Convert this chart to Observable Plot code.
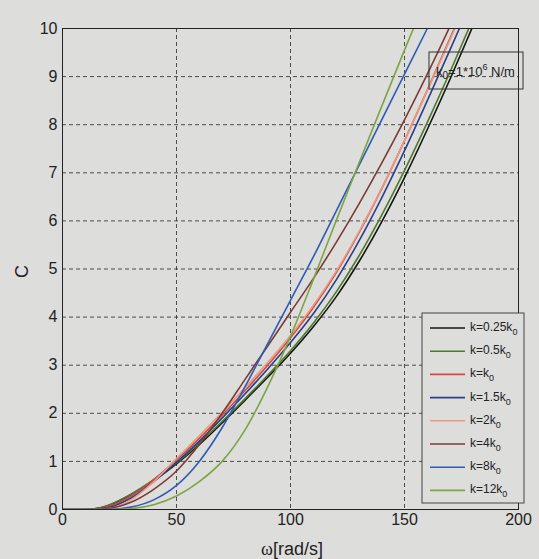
<!DOCTYPE html>
<html>
<head>
<meta charset="utf-8">
<script src="https://cdn.jsdelivr.net/npm/d3@7"></script>
<script src="https://cdn.jsdelivr.net/npm/@observablehq/plot@0.6"></script>
<style>
  html, body { margin: 0; padding: 0; background: #dddddb; }
  #chart svg { display: block; }
</style>
</head>
<body>
<div id="chart"></div>
<script>
// ω [rad/s] sample points
const omega = [0, 10, 20, 30, 40, 50, 60, 70, 80, 90, 100, 110, 120, 130, 140, 150, 160, 170, 180];

// C values per stiffness case
const c_k025 = [0, 0, 0.08, 0.3, 0.6, 0.95, 1.35, 1.8, 2.27, 2.75, 3.25, 3.8, 4.42, 5.15, 5.98, 6.9, 7.9, 8.95, 10.05];
const c_k05  = [0, 0, 0.09, 0.32, 0.62, 0.97, 1.38, 1.83, 2.3, 2.79, 3.3, 3.87, 4.52, 5.27, 6.12, 7.05, 8.05, 9.1, 10.2];
const c_k1   = [0, 0, 0.06, 0.28, 0.62, 1.03, 1.48, 1.96, 2.47, 3.0, 3.57, 4.2, 4.92, 5.75, 6.67, 7.67, 8.72, 9.8, 10.9];
const c_k15  = [0, 0, 0.04, 0.24, 0.58, 0.98, 1.42, 1.9, 2.4, 2.92, 3.47, 4.07, 4.77, 5.58, 6.48, 7.46, 8.5, 9.56, 10.64];
const c_k2   = [0, 0, 0.02, 0.2, 0.58, 1.06, 1.53, 2.02, 2.53, 3.06, 3.62, 4.24, 4.95, 5.77, 6.68, 7.67, 8.71, 9.77, 10.85];
const c_k4   = [0, 0, 0.02, 0.15, 0.42, 0.8, 1.35, 2.0, 2.7, 3.4, 4.1, 4.8, 5.55, 6.35, 7.2, 8.1, 9.05, 10.05, 11.1];
const c_k8   = [0, 0, 0, 0.05, 0.2, 0.5, 1.0, 1.7, 2.55, 3.45, 4.35, 5.25, 6.2, 7.15, 8.1, 9.05, 10.0, 10.95];
const c_k12  = [0, 0, 0, 0.02, 0.1, 0.28, 0.58, 1.0, 1.65, 2.55, 3.6, 4.78, 6.0, 7.2, 8.38, 9.55, 10.7];

const seriesValues = [c_k025, c_k05, c_k1, c_k15, c_k2, c_k4, c_k8, c_k12];
const seriesLabels = ["0.25", "0.5", "", "1.5", "2", "4", "8", "12"];
const seriesColors = ["#151515", "#4f7a2e", "#d04a42", "#28408a", "#eb9a80", "#7d3b36", "#2f5cb5", "#7ea444"];

const xTicks = [0, 50, 100, 150, 200];
const yTicks = [0, 1, 2, 3, 4, 5, 6, 7, 8, 9, 10];

const rows = [];
seriesValues.forEach((vals, i) => {
  vals.forEach((c, j) => rows.push({ w: omega[j], c, s: i }));
});

const W = 539, H = 559;
const mL = 62, mR = 21, mT = 28, mB = 50;

const chart = Plot.plot({
  width: W,
  height: H,
  marginLeft: mL,
  marginRight: mR,
  marginTop: mT,
  marginBottom: mB,
  style: { background: "#dddddb", fontFamily: "Liberation Sans, Arial, sans-serif", fontSize: "16px", color: "#222" },
  x: { domain: [0, 200], ticks: xTicks, tickSize: 0, tickPadding: 4, label: null },
  y: { domain: [0, 10], ticks: yTicks, tickSize: 0, tickPadding: 5, label: null },
  marks: [
    Plot.gridX(xTicks.slice(1, -1), { stroke: "#333", strokeOpacity: 0.85, strokeDasharray: "4,3" }),
    Plot.gridY(yTicks.slice(1, -1), { stroke: "#333", strokeOpacity: 0.85, strokeDasharray: "4,3" }),
    Plot.line(rows, {
      x: "w", y: "c", z: "s",
      stroke: d => seriesColors[d.s],
      strokeWidth: 1.6,
      curve: "monotone-x",
      clip: true
    }),
    Plot.frame({ stroke: "#222", strokeWidth: 1 }),
    Plot.axisX({ ticks: xTicks, tickSize: 0, tickPadding: 4, fontSize: 16 }),
    Plot.axisY({ ticks: yTicks, tickSize: 0, tickPadding: 5, fontSize: 16 })
  ]
});

document.getElementById("chart").appendChild(chart);

const svg = d3.select(chart);

// axis labels
svg.append("text")
  .attr("x", (mL + W - mR) / 2 + 2)
  .attr("y", H - 4)
  .attr("text-anchor", "middle")
  .attr("font-size", 18)
  .attr("fill", "#222")
  .call(t => {
    t.append("tspan").attr("font-family", "Liberation Serif, DejaVu Serif, serif").text("ω");
    t.append("tspan").attr("font-family", "Liberation Sans, Arial, sans-serif").text("[rad/s]");
  });

svg.append("text")
  .attr("transform", `translate(28, ${(mT + H - mB) / 2 + 3}) rotate(-90)`)
  .attr("text-anchor", "middle")
  .attr("font-size", 18)
  .attr("font-family", "Liberation Sans, Arial, sans-serif")
  .attr("fill", "#222")
  .text("C");

// annotation box k0 = 1*10^6 N/m
const ann = svg.append("g");
ann.append("rect")
  .attr("x", 429).attr("y", 52).attr("width", 94).attr("height", 37)
  .attr("fill", "none").attr("stroke", "#333").attr("stroke-width", 1);
const at = ann.append("text")
  .attr("x", 436).attr("y", 76)
  .attr("text-anchor", "start")
  .attr("font-size", 13)
  .attr("font-family", "Liberation Sans, Arial, sans-serif")
  .attr("fill", "#222");
at.append("tspan").text("k");
at.append("tspan").attr("font-size", 10).attr("dy", 3).text("0");
at.append("tspan").attr("dy", -3).text("=1*10");
at.append("tspan").attr("font-size", 9).attr("dy", -6).text("6");
at.append("tspan").attr("dy", 6).text(" N/m");

// legend
const lg = svg.append("g");
lg.append("rect")
  .attr("x", 422).attr("y", 313).attr("width", 102).attr("height", 190)
  .attr("fill", "#dddddb").attr("stroke", "#444").attr("stroke-width", 1);
seriesLabels.forEach((lab, i) => {
  const y = 328 + i * 23.2;
  lg.append("line")
    .attr("x1", 430).attr("x2", 465).attr("y1", y).attr("y2", y)
    .attr("stroke", seriesColors[i]).attr("stroke-width", 1.6);
  const t = lg.append("text")
    .attr("x", 470).attr("y", y + 3)
    .attr("text-anchor", "start")
    .attr("font-size", 12)
    .attr("font-family", "Liberation Sans, Arial, sans-serif")
    .attr("fill", "#222");
  t.append("tspan").text("k=" + lab + "k");
  t.append("tspan").attr("font-size", 9).attr("dy", 4).text("0");
});
</script>
</body>
</html>
